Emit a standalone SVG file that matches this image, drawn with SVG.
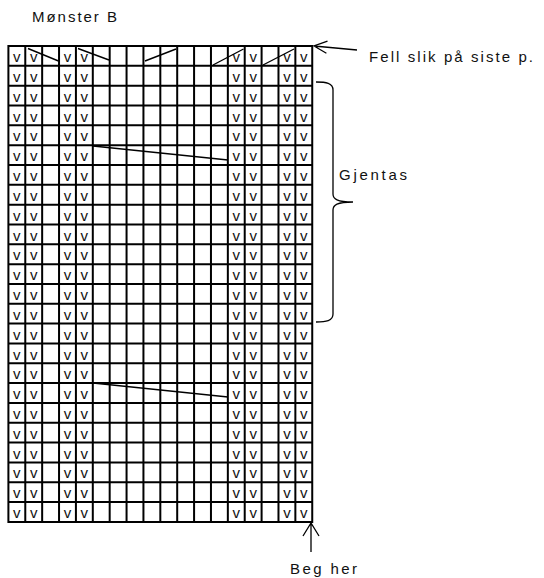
<svg xmlns="http://www.w3.org/2000/svg" width="544" height="578" viewBox="0 0 544 578">
<style>
.grid{fill:none;stroke:#000;stroke-width:2}
.dec{fill:none;stroke:#000;stroke-width:1.4}
.conn{fill:none;stroke:#000;stroke-width:1.3}
.v{font-family:"Liberation Sans",Arial,sans-serif;font-size:15px;fill:#111;text-anchor:middle}
.lbl{font-family:"Liberation Sans",Arial,sans-serif;font-size:15px;fill:#111}
</style>
<rect width="544" height="578" fill="#fff"/>
<g id="title"><text class="lbl" x="32" y="22" textLength="85" lengthAdjust="spacing">Mønster B</text></g>
<g id="grid">
<path class="grid" d="M8.4,46V522M25.28,46V522M42.16,46V522M59.04,46V522M75.92,46V522M92.8,46V522M109.68,46V522M126.56,46V522M143.44,46V522M160.32,46V522M177.2,46V522M194.08,46V522M210.96,46V522M227.84,46V522M244.72,46V522M261.6,46V522M278.48,46V522M295.36,46V522M312.24,46V522
M7.4,46H313.24M7.4,65.83H313.24M7.4,85.66H313.24M7.4,105.49H313.24M7.4,125.32H313.24M7.4,145.15H313.24M7.4,164.98H313.24M7.4,184.81H313.24M7.4,204.64H313.24M7.4,224.47H313.24M7.4,244.3H313.24M7.4,264.13H313.24M7.4,283.96H313.24M7.4,303.79H313.24M7.4,323.62H313.24M7.4,343.45H313.24M7.4,363.28H313.24M7.4,383.11H313.24M7.4,402.94H313.24M7.4,422.77H313.24M7.4,442.6H313.24M7.4,462.43H313.24M7.4,482.26H313.24M7.4,502.09H313.24M7.4,521.92H313.24"/>
</g>
<g id="stitches">
<text class="v" x="16.84 33.72 67.48 84.36 236.28 253.16 286.92 303.8" y="62">vvvvvvvv</text>
<text class="v" x="16.84 33.72 67.48 84.36 236.28 253.16 286.92 303.8" y="81.8">vvvvvvvv</text>
<text class="v" x="16.84 33.72 67.48 84.36 236.28 253.16 286.92 303.8" y="101.7">vvvvvvvv</text>
<text class="v" x="16.84 33.72 67.48 84.36 236.28 253.16 286.92 303.8" y="121.5">vvvvvvvv</text>
<text class="v" x="16.84 33.72 67.48 84.36 236.28 253.16 286.92 303.8" y="141.3">vvvvvvvv</text>
<text class="v" x="16.84 33.72 67.48 84.36 236.28 253.16 286.92 303.8" y="161.2">vvvvvvvv</text>
<text class="v" x="16.84 33.72 67.48 84.36 236.28 253.16 286.92 303.8" y="181">vvvvvvvv</text>
<text class="v" x="16.84 33.72 67.48 84.36 236.28 253.16 286.92 303.8" y="200.8">vvvvvvvv</text>
<text class="v" x="16.84 33.72 67.48 84.36 236.28 253.16 286.92 303.8" y="220.6">vvvvvvvv</text>
<text class="v" x="16.84 33.72 67.48 84.36 236.28 253.16 286.92 303.8" y="240.5">vvvvvvvv</text>
<text class="v" x="16.84 33.72 67.48 84.36 236.28 253.16 286.92 303.8" y="260.3">vvvvvvvv</text>
<text class="v" x="16.84 33.72 67.48 84.36 236.28 253.16 286.92 303.8" y="280.1">vvvvvvvv</text>
<text class="v" x="16.84 33.72 67.48 84.36 236.28 253.16 286.92 303.8" y="300">vvvvvvvv</text>
<text class="v" x="16.84 33.72 67.48 84.36 236.28 253.16 286.92 303.8" y="319.8">vvvvvvvv</text>
<text class="v" x="16.84 33.72 67.48 84.36 236.28 253.16 286.92 303.8" y="339.6">vvvvvvvv</text>
<text class="v" x="16.84 33.72 67.48 84.36 236.28 253.16 286.92 303.8" y="359.5">vvvvvvvv</text>
<text class="v" x="16.84 33.72 67.48 84.36 236.28 253.16 286.92 303.8" y="379.3">vvvvvvvv</text>
<text class="v" x="16.84 33.72 67.48 84.36 236.28 253.16 286.92 303.8" y="399.1">vvvvvvvv</text>
<text class="v" x="16.84 33.72 67.48 84.36 236.28 253.16 286.92 303.8" y="418.9">vvvvvvvv</text>
<text class="v" x="16.84 33.72 67.48 84.36 236.28 253.16 286.92 303.8" y="438.8">vvvvvvvv</text>
<text class="v" x="16.84 33.72 67.48 84.36 236.28 253.16 286.92 303.8" y="458.6">vvvvvvvv</text>
<text class="v" x="16.84 33.72 67.48 84.36 236.28 253.16 286.92 303.8" y="478.4">vvvvvvvv</text>
<text class="v" x="16.84 33.72 67.48 84.36 236.28 253.16 286.92 303.8" y="498.3">vvvvvvvv</text>
<text class="v" x="16.84 33.72 67.48 84.36 236.28 253.16 286.92 303.8" y="518.1">vvvvvvvv</text>
</g>
<g id="decreases">
<path class="dec" d="M28,48.5L58.5,61M78,48.5L109,60M145,61L176,49M213,65L243.5,49M263,65L294,49M93,146L228,160M93,383L228,397"/>
</g>
<g id="connectors">
<path class="conn" d="M357,50L314,46M327.5,41.2L314,46L326.4,53.2"/>
<path class="conn" d="M311,552V523M303,536L311,523L319,536"/>
<path class="conn" d="M316,82C326,82 333,83 333,90L333,194C333,199 337,202 353,202C337,202 333,205 333,210L333,314C333,321 326,322 316,322"/>
</g>
<g id="labels">
<text class="lbl" x="369" y="62" textLength="164" lengthAdjust="spacing">Fell slik på siste p.</text>
<text class="lbl" x="339" y="180" textLength="68" lengthAdjust="spacing">Gjentas</text>
<text class="lbl" x="290" y="574" textLength="67" lengthAdjust="spacing">Beg her</text>
</g>
</svg>
